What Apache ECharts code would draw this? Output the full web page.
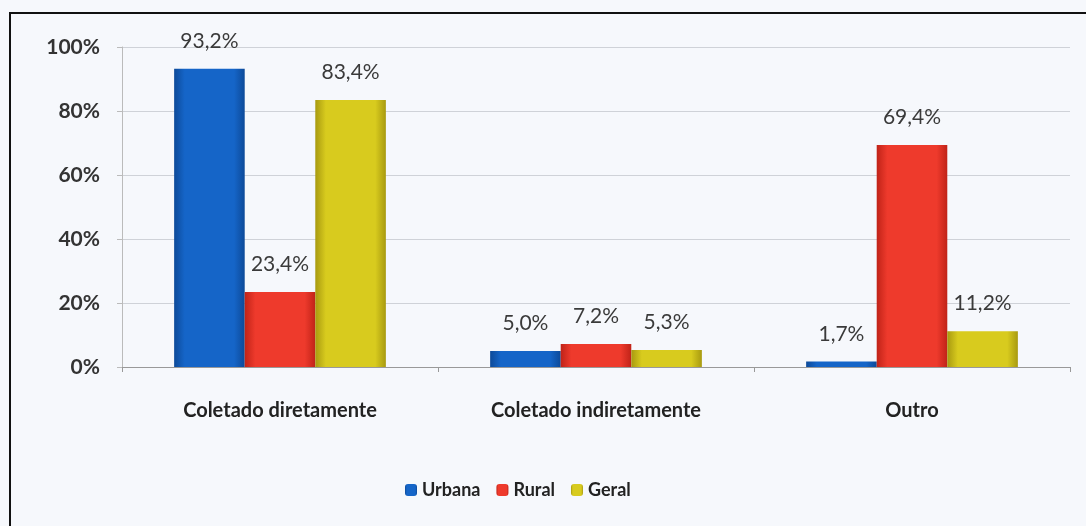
<!DOCTYPE html>
<html>
<head>
<meta charset="utf-8">
<script src="https://cdn.jsdelivr.net/npm/echarts@6/dist/echarts.min.js"></script>
<style>
  html, body { margin: 0; padding: 0; background: #f6f8fc; }
  #chart { width: 1086px; height: 526px; }
</style>
</head>
<body>
<div id="chart"></div>
<script>
const categories = ['Coletado diretamente', 'Coletado indiretamente', 'Outro'];
const urbana = [93.2, 5.0, 1.7];
const rural = [23.4, 7.2, 69.4];
const geral = [83.4, 5.3, 11.2];

const fontFamily = 'Lato, "Open Sans", sans-serif';
const fmt = v => v.toFixed(1).replace('.', ',') + '%';

const label = {
    show: true,
    position: 'top',
    distance: 17,
    color: '#3a3a3a',
    fontSize: 21,
    fontFamily: fontFamily,
    formatter: p => fmt(p.value)
};

function bar(name, data, color, dark) {
    return {
        name: name,
        type: 'bar',
        data: data,
        barGap: '0%',
        barCategoryGap: '33%',
        label: label,
        itemStyle: {
            color: new echarts.graphic.LinearGradient(0, 0, 1, 0, [
                { offset: 0, color: dark },
                { offset: 0.15, color: color },
                { offset: 0.85, color: color },
                { offset: 1, color: dark }
            ])
        }
    };
}

const chart = echarts.init(document.getElementById('chart'), null, { renderer: 'canvas' });
chart.setOption({
    backgroundColor: '#f6f8fc',
    animation: false,
    graphic: [{
        type: 'rect',
        shape: { x: 10, y: 13, width: 1090, height: 530 },
        style: { fill: 'none', stroke: '#111', lineWidth: 2 },
        silent: true
    }],
    grid: { left: 122, right: 16, top: 47, bottom: 159 },
    legend: {
        bottom: 22,
        left: 400,
        itemWidth: 12,
        itemHeight: 12,
        itemGap: 16,
        textStyle: { fontSize: 18, fontWeight: 'bold', color: '#222', fontFamily: fontFamily },
        data: ['Urbana', 'Rural', 'Geral']
    },
    xAxis: {
        type: 'category',
        data: categories,
        axisLine: { lineStyle: { color: '#999' } },
        axisTick: { show: true, length: 5, lineStyle: { color: '#999' } },
        axisLabel: { margin: 34, fontSize: 20, fontWeight: 'bold', color: '#222', fontFamily: fontFamily }
    },
    yAxis: {
        type: 'value',
        min: 0,
        max: 100,
        interval: 20,
        axisLine: { show: true, lineStyle: { color: '#bbb' } },
        axisTick: { show: true, length: 5, lineStyle: { color: '#bbb' } },
        splitLine: { lineStyle: { color: '#cfd2d8' } },
        axisLabel: { formatter: '{value}%', margin: 22, fontSize: 21, fontWeight: 'bold', color: '#333', fontFamily: fontFamily }
    },
    series: [
        bar('Urbana', urbana, '#1565c8', '#0d4a99'),
        bar('Rural', rural, '#ee3a2c', '#c02318'),
        bar('Geral', geral, '#d8cb1e', '#a89a10')
    ]
});
</script>
</body>
</html>
